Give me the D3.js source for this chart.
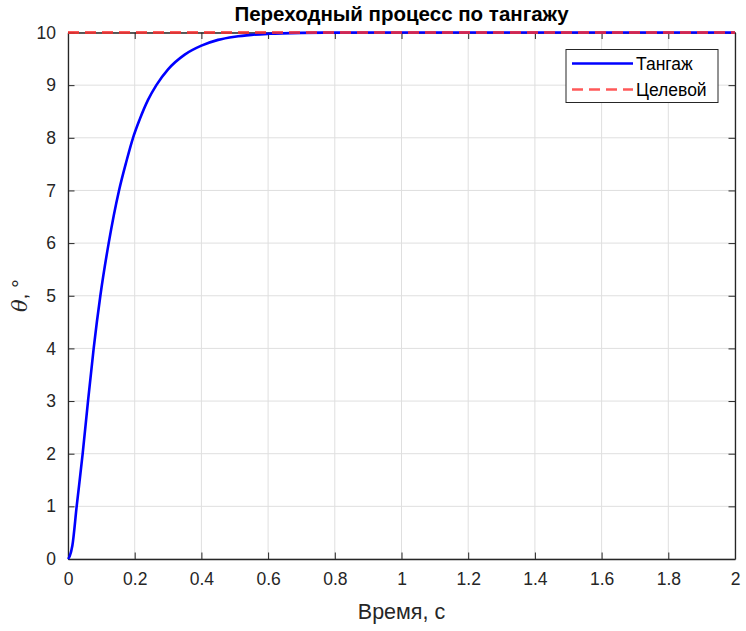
<!DOCTYPE html>
<html>
<head>
<meta charset="utf-8">
<script src="https://cdn.jsdelivr.net/npm/d3@7"></script>
<style>
  body { margin: 0; background: #fff; }
  svg { display: block; font-family: "Liberation Sans", Arial, sans-serif; }
</style>
</head>
<body>
<svg id="chart" width="746" height="631"></svg>
<script>
// values
var timeValues  = [0, 0.005, 0.013, 0.026, 0.044, 0.060, 0.077, 0.097, 0.122, 0.153, 0.175, 0.195, 0.215, 0.24, 0.265, 0.3, 0.35, 0.4, 0.45, 0.5, 0.55, 0.6, 0.7, 0.8, 1.0, 1.5, 2.0];
var pitchValues = [0, 0.05, 0.25, 1, 2, 3, 4, 5, 6, 7, 7.55, 8, 8.35, 8.72, 9, 9.3, 9.58, 9.75, 9.86, 9.92, 9.955, 9.975, 9.993, 9.998, 10, 10, 10];
var targetValue = 10;
var xTicks = [0, 0.2, 0.4, 0.6, 0.8, 1, 1.2, 1.4, 1.6, 1.8, 2];
var yTicks = [0, 1, 2, 3, 4, 5, 6, 7, 8, 9, 10];
var legendLabels = ["Тангаж", "Целевой"];

var svg = d3.select('#chart');
// plot box (note: "top" is a reserved window prop, so use other names)
var pLeft = 68, pRight = 735, pTop = 32.5, pBottom = 559;
var axisColor = '#262626';

var x = d3.scaleLinear().domain([0, 2]).range([pLeft, pRight]);
var y = d3.scaleLinear().domain([0, 10]).range([pBottom, pTop]);

// grid
var grid = svg.append('g').attr('stroke', '#dfdfdf').attr('stroke-width', 1);
grid.selectAll('line.gx').data(xTicks).enter().append('line')
  .attr('x1', function(d){ return x(d); }).attr('x2', function(d){ return x(d); })
  .attr('y1', pTop).attr('y2', pBottom);
grid.selectAll('line.gy').data(yTicks).enter().append('line')
  .attr('y1', function(d){ return y(d); }).attr('y2', function(d){ return y(d); })
  .attr('x1', pLeft).attr('x2', pRight);

// axes (MATLAB style: box with inward ticks on all sides)
var xAxis = d3.axisBottom(x).tickValues(xTicks).tickSizeInner(-6.5).tickSizeOuter(0)
  .tickFormat(function(d){ return String(d); }).tickPadding(14);
var yAxis = d3.axisLeft(y).tickValues(yTicks).tickSizeInner(-6.5).tickSizeOuter(0).tickPadding(12);

var gx = svg.append('g').attr('transform', 'translate(0,' + pBottom + ')').call(xAxis);
var gy = svg.append('g').attr('transform', 'translate(' + pLeft + ',0)').call(yAxis);
var gxTop = svg.append('g').attr('transform', 'translate(0,' + pTop + ')')
  .call(d3.axisTop(x).tickValues(xTicks).tickSizeInner(-6.5).tickSizeOuter(0).tickFormat(''));
var gyRight = svg.append('g').attr('transform', 'translate(' + pRight + ',0)')
  .call(d3.axisRight(y).tickValues(yTicks).tickSizeInner(-6.5).tickSizeOuter(0).tickFormat(''));

[gx, gy, gxTop, gyRight].forEach(function(g){
  g.selectAll('path').attr('stroke', axisColor).attr('stroke-width', 1.3);
  g.selectAll('line').attr('stroke', axisColor).attr('stroke-width', 1);
  g.selectAll('text').attr('fill', axisColor).style('font-size', '17.5px');
});

// data lines, drawn over the box like in the reference
var pts = timeValues.map(function(t, i){ return [t, pitchValues[i]]; });
var line = d3.line()
  .x(function(d){ return x(d[0]); })
  .y(function(d){ return y(d[1]); })
  .curve(d3.curveMonotoneX);

svg.append('path').datum(pts)
  .attr('d', line)
  .attr('fill', 'none')
  .attr('stroke', '#0000ff')
  .attr('stroke-width', 2.6);

svg.append('line')
  .attr('x1', x(0)).attr('x2', x(2))
  .attr('y1', y(targetValue)).attr('y2', y(targetValue))
  .attr('stroke', '#ff3030').attr('stroke-opacity', 0.8)
  .attr('stroke-width', 3)
  .attr('stroke-dasharray', '11,6');

// title and labels
svg.append('text')
  .attr('x', (pLeft + pRight) / 2).attr('y', 21)
  .attr('text-anchor', 'middle')
  .style('font-size', '20.5px').style('font-weight', 'bold').attr('fill', '#000')
  .text('Переходный процесс по тангажу');

svg.append('text')
  .attr('x', (pLeft + pRight) / 2).attr('y', 619)
  .attr('text-anchor', 'middle')
  .style('font-size', '21.5px').attr('fill', axisColor)
  .text('Время, с');

var yl = svg.append('text')
  .attr('transform', 'translate(27,' + ((pTop + pBottom) / 2) + ') rotate(-90)')
  .attr('text-anchor', 'middle')
  .style('font-size', '21px').attr('fill', axisColor);
yl.append('tspan').style('font-style', 'italic').style('font-family', '"DejaVu Serif", serif').text('θ');
yl.append('tspan').text(', °');

// legend
var lg = svg.append('g');
lg.append('rect')
  .attr('x', 566).attr('y', 49.5).attr('width', 152).attr('height', 53)
  .attr('fill', '#fff').attr('stroke', axisColor).attr('stroke-width', 1);
var legendStyles = [
  { color: '#0000ff', dash: null, opacity: 1 },
  { color: '#ff3030', dash: '11,6', opacity: 0.8 }
];
legendLabels.forEach(function(label, i){
  var yy = 63.5 + i * 26;
  lg.append('line')
    .attr('x1', 572).attr('x2', 633).attr('y1', yy).attr('y2', yy)
    .attr('stroke', legendStyles[i].color)
    .attr('stroke-opacity', legendStyles[i].opacity)
    .attr('stroke-width', 2.6)
    .attr('stroke-dasharray', legendStyles[i].dash);
  lg.append('text')
    .attr('x', 636).attr('y', yy + 6)
    .style('font-size', '17.5px').attr('fill', '#000')
    .text(label);
});
</script>
</body>
</html>
